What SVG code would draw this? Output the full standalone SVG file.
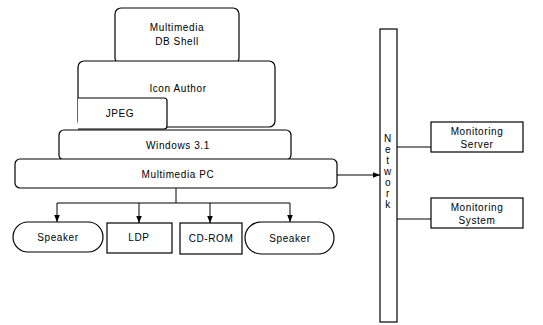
<svg xmlns="http://www.w3.org/2000/svg" width="543" height="325" viewBox="0 0 543 325">
<defs>
<style>
.s{fill:#fff;stroke:#000;stroke-width:1.2}
.t{font-family:"Liberation Sans",Arial,sans-serif;font-size:10px;letter-spacing:0.6px;text-anchor:middle;fill:#000}
.c{fill:none;stroke:#000;stroke-width:1}
</style>
<marker id="ah" viewBox="0 0 10 10" refX="10" refY="5" markerWidth="7" markerHeight="7" orient="auto" markerUnits="userSpaceOnUse">
<path d="M0,1 L10,5 L0,9 z" fill="#000"/>
</marker>
</defs>
<rect width="543" height="325" fill="#fff"/>
<g id="connectors">
<path class="c" d="M176,188 V203"/>
<path class="c" d="M57,203 H290"/>
<path class="c" d="M57,203 V222" marker-end="url(#ah)"/>
<path class="c" d="M139,203 V223" marker-end="url(#ah)"/>
<path class="c" d="M210,203 V223" marker-end="url(#ah)"/>
<path class="c" d="M290,203 V222" marker-end="url(#ah)"/>
<path class="c" d="M337,175 H380" marker-end="url(#ah)"/>
<path class="c" d="M397,147 H431"/>
<path class="c" d="M397,219 H431"/>
</g>
<g id="dbshell">
<rect class="s" x="115" y="8" width="124" height="56" rx="6"/>
<text class="t" x="177" y="31">Multimedia</text>
<text class="t" x="177" y="45">DB Shell</text>
</g>
<g id="iconauthor">
<rect class="s" x="78" y="61" width="197" height="66" rx="6"/>
<text class="t" x="178" y="92">Icon Author</text>
</g>
<g id="jpeg">
<path class="s" d="M78,98 H164 Q167,98 167,101 V126 Q167,129 164,129 H78"/>
<text class="t" x="120" y="117">JPEG</text>
</g>
<g id="windows">
<rect class="s" x="59" y="130" width="232" height="30" rx="5"/>
<text class="t" x="178" y="149">Windows 3.1</text>
</g>
<g id="pc">
<rect class="s" x="15" y="159" width="322" height="29" rx="5"/>
<text class="t" x="178" y="178">Multimedia PC</text>
</g>
<g id="speaker1">
<rect class="s" x="13" y="222" width="90" height="30" rx="15"/>
<text class="t" x="58" y="241">Speaker</text>
</g>
<g id="ldp">
<rect class="s" x="107" y="223" width="65" height="30"/>
<text class="t" x="139" y="241">LDP</text>
</g>
<g id="cdrom">
<rect class="s" x="180" y="223" width="62" height="31"/>
<text class="t" x="211" y="242">CD-ROM</text>
</g>
<g id="speaker2">
<rect class="s" x="245" y="222" width="89" height="32" rx="16"/>
<text class="t" x="290" y="242">Speaker</text>
</g>
<g id="network">
<rect class="s" x="380" y="29" width="17" height="293"/>
<text class="t" x="388" y="142">N</text>
<text class="t" x="388" y="153">e</text>
<text class="t" x="388" y="164">t</text>
<text class="t" x="388" y="175">w</text>
<text class="t" x="388" y="186">o</text>
<text class="t" x="388" y="197">r</text>
<text class="t" x="388" y="208">k</text>
</g>
<g id="monserver">
<rect class="s" x="431" y="122" width="92" height="30"/>
<text class="t" x="477" y="135">Monitoring</text>
<text class="t" x="477" y="148">Server</text>
</g>
<g id="monsystem">
<rect class="s" x="431" y="198" width="92" height="30"/>
<text class="t" x="477" y="211">Monitoring</text>
<text class="t" x="477" y="224">System</text>
</g>
</svg>
